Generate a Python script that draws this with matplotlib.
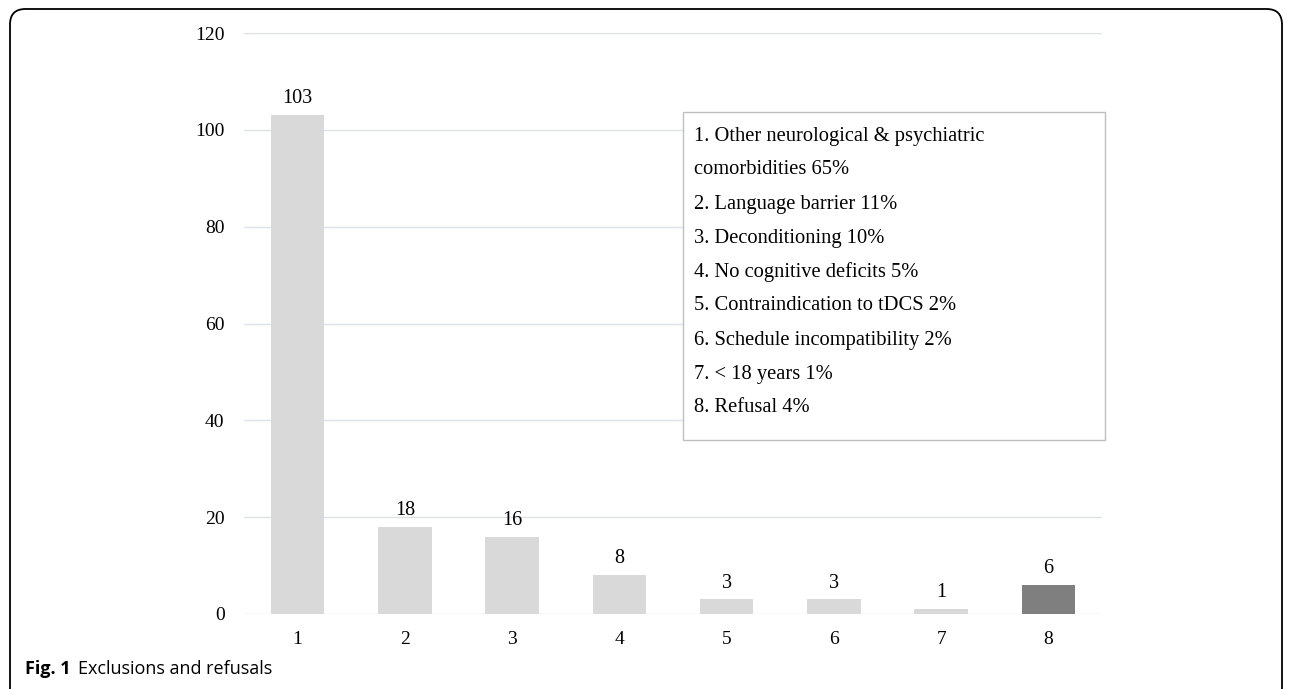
import matplotlib.pyplot as plt
from matplotlib.patches import FancyBboxPatch

categories = ["1", "2", "3", "4", "5", "6", "7", "8"]
counts = [103, 18, 16, 8, 3, 3, 1, 6]
reasons = [
    "1. Other neurological & psychiatric\ncomorbidities 65%",
    "2. Language barrier 11%",
    "3. Deconditioning 10%",
    "4. No cognitive deficits 5%",
    "5. Contraindication to tDCS 2%",
    "6. Schedule incompatibility 2%",
    "7. < 18 years 1%",
    "8. Refusal 4%",
]
bar_colors = ["#d9d9d9"] * 7 + ["#7f7f7f"]

serif = ["Liberation Serif", "DejaVu Serif"]
sans = ["Open Sans", "DejaVu Sans"]

fig = plt.figure(figsize=(12.9, 6.89), dpi=100)
ax = fig.add_axes([244 / 1290, 1 - 614 / 689, 858 / 1290, 581 / 689])

x = list(range(1, len(categories) + 1))
ax.bar(x, counts, width=0.5, color=bar_colors, zorder=2)
for xi, c in zip(x, counts):
    ax.annotate(str(c), xy=(xi, c), xytext=(0, 5), textcoords="offset points",
                ha="center", va="bottom", fontsize=14.5, family=serif)

ax.set_xlim(0.5, 8.5)
ax.set_ylim(0, 120)
ax.set_yticks(range(0, 121, 20))
ax.set_xticks(x)
ax.set_xticklabels(categories)
ax.grid(axis="y", color="#dde1e6", linewidth=1, zorder=0)
for s in ax.spines.values():
    s.set_visible(False)
ax.tick_params(length=0, labelsize=14)
ax.tick_params(axis="y", pad=14)
ax.tick_params(axis="x", pad=12)
for lab in ax.get_xticklabels() + ax.get_yticklabels():
    lab.set_family(serif)

# text box listing the reasons
box = FancyBboxPatch((683 / 1290, 1 - 440 / 689), 422 / 1290, 328 / 689,
                     boxstyle="square,pad=0", transform=fig.transFigure,
                     facecolor="white", edgecolor="#bfbfbf", linewidth=1, zorder=3)
fig.patches.append(box)
lines = "\n".join(reasons).split("\n")
for i, line in enumerate(lines):
    fig.text(694 / 1290, 1 - (136 + 34 * i) / 689, line, fontsize=14.8,
             family=serif, va="center", ha="left", zorder=4)

# rounded frame around the figure
frame = FancyBboxPatch((10 / 1290, -20 / 689), 1272 / 1290, 700 / 689,
                       boxstyle="round,pad=0,rounding_size=0.012",
                       transform=fig.transFigure, facecolor="none",
                       edgecolor="black", linewidth=1.3, mutation_aspect=1290 / 689)
fig.patches.append(frame)

fig.text(25 / 1290, 1 - 669 / 689, "Fig. 1", fontsize=13, fontweight="bold",
         family=sans, va="center", ha="left")
fig.text(78 / 1290, 1 - 669 / 689, "Exclusions and refusals", fontsize=13,
         family=sans, va="center", ha="left")

fig.savefig("out.png", dpi=100)
